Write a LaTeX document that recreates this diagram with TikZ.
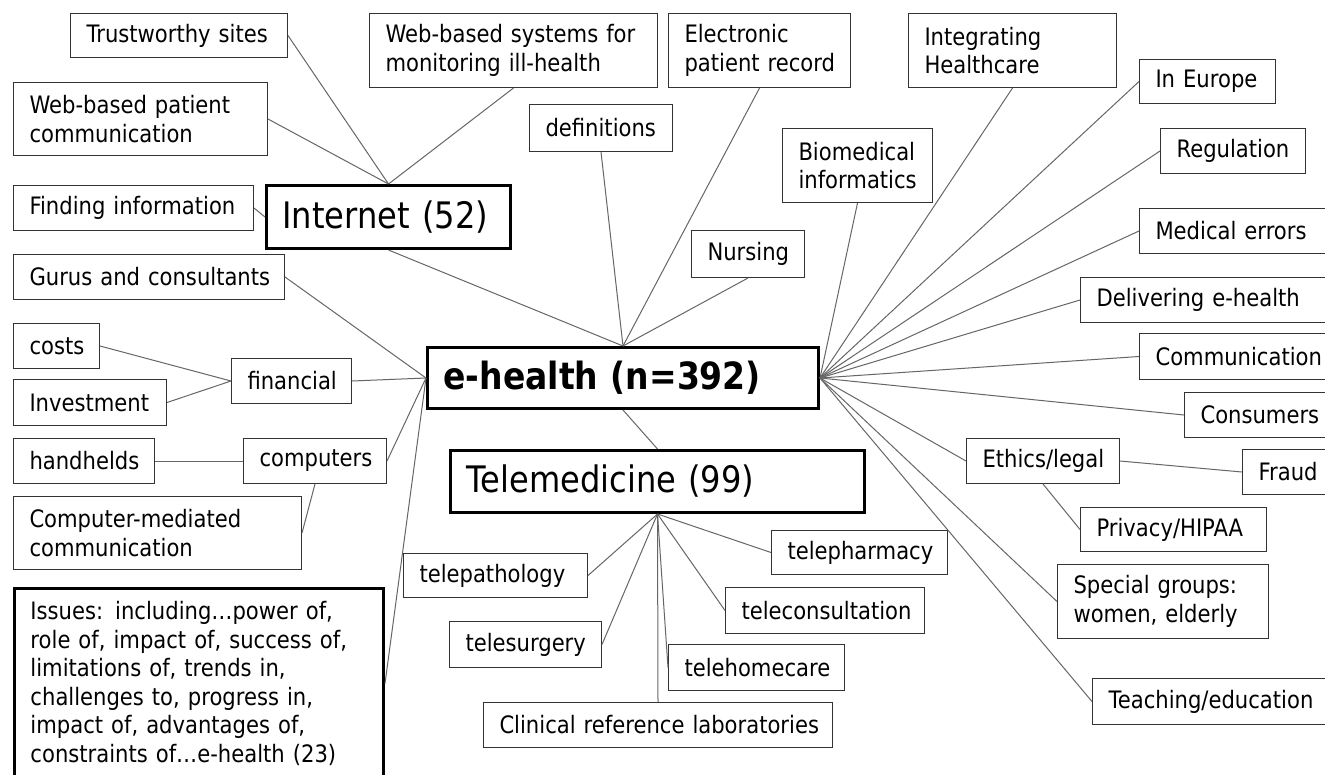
\documentclass[tikz,border=0pt]{standalone}
\usepackage{fontspec}
\setmainfont{DejaVu Sans}[FakeStretch=0.88]
\usetikzlibrary{positioning}

\tikzset{
  leaf/.style={draw=black!80, line width=1pt, anchor=north west,
    inner xsep=0pt, inner ysep=0pt, align=left,
    execute at begin node={\leftskip=16pt\relax},
    font=\fontsize{24}{28.5}\selectfont},
  box/.style 2 args={text width=#1, minimum width=#1, minimum height=#2},
  hub/.style={leaf, draw=black, line width=3pt, font=\fontsize{36.5}{43}\selectfont},
  link/.style={draw=black!60, line width=1pt}
}

\begin{document}
\begin{tikzpicture}[x=1pt, y=-1pt]
\clip (0,0) rectangle (1325,774);
\fill[white] (0,0) rectangle (1325,774);

% main topic and its two big branches
\node[hub, box={391}{61}, font=\fontsize{37.5}{43}\selectfont\bfseries] (ehealth) at (426,346) {e-health (n=392)};
\node[hub, box={244}{63}] (internet) at (265,184) {Internet (52)};
\node[hub, box={414}{62}] (tele) at (449,449) {Telemedicine (99)};

% internet side
\node[leaf, box={217}{44}] (trust) at (70,13) {Trustworthy sites};
\node[leaf, box={254}{73}] (webpat) at (13,82) {Web-based patient\\communication};
\node[leaf, box={240}{45}] (finding) at (13,185) {Finding information};
\node[leaf, box={288}{74}] (websys) at (369,13) {Web-based systems for\\monitoring ill-health};

% top row
\node[leaf, box={182}{74}] (epr) at (668,13) {Electronic\\patient record};
\node[leaf, box={143}{47}] (defs) at (529,104) {definitions};
\node[leaf, box={113}{47}] (nursing) at (691,230) {Nursing};
\node[leaf, box={150}{74}] (biomed) at (782,128) {Biomedical\\informatics};
\node[leaf, box={208}{74}] (integ) at (908,13) {Integrating\\Healthcare};

% right fan
\node[leaf, box={136}{44}] (europe) at (1139,59) {In Europe};
\node[leaf, box={145}{45}] (regul) at (1160,128) {Regulation};
\node[leaf, box={200}{45}] (errors) at (1139,208) {Medical errors};
\node[leaf, box={260}{45}] (deliver) at (1080,277) {Delivering e-health};
\node[leaf, box={200}{46}] (comm) at (1139,333) {Communication};
\node[leaf, box={160}{45}] (consum) at (1184,392) {Consumers};
\node[leaf, box={153}{45}] (ethics) at (966,438) {Ethics/legal};
\node[leaf, box={100}{45}] (fraud) at (1242,449) {Fraud};
\node[leaf, box={186}{44}] (privacy) at (1080,507) {Privacy/HIPAA};
\node[leaf, box={211}{74}] (special) at (1057,564) {Special groups:\\women, elderly};
\node[leaf, box={250}{46}] (teach) at (1092,678) {Teaching/education};

% left side
\node[leaf, box={271}{45}] (gurus) at (13,254) {Gurus and consultants};
\node[leaf, box={86}{45}] (costs) at (13,323) {costs};
\node[leaf, box={153}{46}] (invest) at (13,379) {Investment};
\node[leaf, box={120}{45}] (financial) at (231,358) {financial};
\node[leaf, box={141}{45}] (handheld) at (13,438) {handhelds};
\node[leaf, box={143}{45}] (computers) at (243,438) {computers};
\node[leaf, box={288}{73}] (cmc) at (13,496) {Computer-mediated\\communication};
\node[hub, box={369}{190}, font=\fontsize{24}{28.5}\selectfont] (issues) at (13,587)
  {Issues: including…power of,\\role of, impact of, success of,\\limitations of, trends in,\\challenges to, progress in,\\impact of, advantages of,\\constraints of…e-health (23)};

% telemedicine branches
\node[leaf, box={184}{44}] (tpath) at (403,553) {telepathology};
\node[leaf, box={176}{44}] (tpharm) at (771,530) {telepharmacy};
\node[leaf, box={199}{46}] (tconsult) at (725,587) {teleconsultation};
\node[leaf, box={152}{46}] (tsurg) at (449,621) {telesurgery};
\node[leaf, box={176}{46}] (thome) at (668,644) {telehomecare};
\node[leaf, box={349}{45}] (clinical) at (483,702) {Clinical reference laboratories};

% connectors
\draw[link] (trust.east) -- (internet.north);
\draw[link] (webpat.east) -- (internet.north);
\draw[link] (websys.south) -- (internet.north);
\draw[link] (finding.east) -- (internet.west);
\foreach \n in {internet,defs,epr,nursing}
  \draw[link] (\n.south) -- (ehealth.north);
\foreach \n in {biomed,integ}
  \draw[link] (\n.south) -- (ehealth.east);
\foreach \n in {europe,regul,errors,deliver,comm,consum,ethics,special,teach}
  \draw[link] (\n.west) -- (ehealth.east);
\draw[link] (ethics.east) -- (fraud.west);
\draw[link] (ethics.south) -- (privacy.west);
\foreach \n in {gurus,financial,computers,issues}
  \draw[link] (\n.east) -- (ehealth.west);
\draw[link] (costs.east) -- (financial.west);
\draw[link] (invest.east) -- (financial.west);
\draw[link] (handheld.east) -- (computers.west);
\draw[link] (computers.south) -- (cmc.east);
\draw[link] (ehealth.south) -- (tele.north);
\foreach \n in {tpath,tsurg}
  \draw[link] (tele.south) -- (\n.east);
\foreach \n in {thome,tconsult,tpharm}
  \draw[link] (tele.south) -- (\n.west);
\draw[link] (tele.south) -- (clinical.north);
\end{tikzpicture}
\end{document}
